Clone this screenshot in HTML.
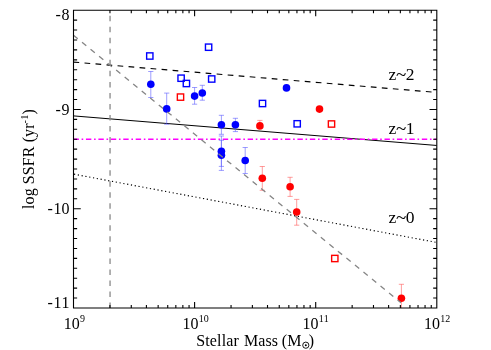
<!DOCTYPE html>
<html><head><meta charset="utf-8"><title>SSFR vs Stellar Mass</title>
<style>html,body{margin:0;padding:0;background:#fff;}body{width:491px;height:350px;overflow:hidden;}svg{display:block;will-change:transform;}text{font-family:"Liberation Serif",serif;fill:#000;font-kerning:none;}</style></head><body>
<svg width="491" height="350" viewBox="0 0 491 350">
<rect width="491" height="350" fill="#fff"/>
<defs><clipPath id="pc"><rect x="73.5" y="10.2" width="363.3" height="297.8"/></clipPath></defs>
<g clip-path="url(#pc)" fill="none">
<path d="M73.5 62.07 L436.8 92.44" stroke="#000" stroke-width="1.15" stroke-dasharray="5.7 5.35"/>
<path d="M73.5 115.9 L436.8 145.48" stroke="#000" stroke-width="1"/>
<path d="M74 174.19 L436.8 242.47" stroke="#000" stroke-width="1.15" stroke-dasharray="1.2 2.66"/>
<path d="M73.5 139.2 H436.8" stroke="#ff00ff" stroke-width="1.4" stroke-dasharray="5.4 2.72 1.6 2.72"/>
</g>
<g clip-path="url(#pc)">
<path d="M150.8 71.5 V97.5 M148.2 71.5 h5.2 M148.2 97.5 h5.2" stroke="#5a5aff" stroke-width="0.6" fill="none"/>
<path d="M166.7 93.1 V124.2 M164.1 93.1 h5.2 M164.1 124.2 h5.2" stroke="#5a5aff" stroke-width="0.6" fill="none"/>
<path d="M194.6 87.5 V104.2 M192 87.5 h5.2 M192 104.2 h5.2" stroke="#5a5aff" stroke-width="0.6" fill="none"/>
<path d="M202.3 85.3 V100.2 M199.7 85.3 h5.2 M199.7 100.2 h5.2" stroke="#5a5aff" stroke-width="0.6" fill="none"/>
<path d="M221.4 115.3 V134.3 M218.8 115.3 h5.2 M218.8 134.3 h5.2" stroke="#5a5aff" stroke-width="0.6" fill="none"/>
<path d="M221.4 136 V166.4 M218.8 136 h5.2 M218.8 166.4 h5.2" stroke="#5a5aff" stroke-width="0.6" fill="none"/>
<path d="M221.4 140.3 V170.4 M218.8 140.3 h5.2 M218.8 170.4 h5.2" stroke="#5a5aff" stroke-width="0.6" fill="none"/>
<path d="M235.4 118.3 V131.6 M232.8 118.3 h5.2 M232.8 131.6 h5.2" stroke="#5a5aff" stroke-width="0.6" fill="none"/>
<path d="M245.2 147.5 V173.5 M242.6 147.5 h5.2 M242.6 173.5 h5.2" stroke="#5a5aff" stroke-width="0.6" fill="none"/>
<path d="M259.9 120.4 V125.4 M257.3 120.4 h5.2" stroke="#ff5a5a" stroke-width="0.6" fill="none"/>
<path d="M262.3 166.5 V190.3 M259.7 166.5 h5.2 M259.7 190.3 h5.2" stroke="#ff5a5a" stroke-width="0.6" fill="none"/>
<path d="M290.1 177.3 V196.4 M287.5 177.3 h5.2 M287.5 196.4 h5.2" stroke="#ff5a5a" stroke-width="0.6" fill="none"/>
<path d="M296.7 199.4 V225.2 M294.1 199.4 h5.2 M294.1 225.2 h5.2" stroke="#ff5a5a" stroke-width="0.6" fill="none"/>
<path d="M401.4 284.3 V312.3 M398.8 284.3 h5.2 M398.8 312.3 h5.2" stroke="#ff5a5a" stroke-width="0.6" fill="none"/>
</g>
<circle cx="150.8" cy="84.3" r="3.8" fill="#0000ff"/>
<circle cx="166.7" cy="108.9" r="3.8" fill="#0000ff"/>
<circle cx="194.6" cy="96.1" r="3.8" fill="#0000ff"/>
<circle cx="202.3" cy="93" r="3.8" fill="#0000ff"/>
<circle cx="221.4" cy="124.7" r="3.8" fill="#0000ff"/>
<circle cx="221.4" cy="151.3" r="3.8" fill="#0000ff"/>
<circle cx="221.4" cy="155.3" r="3.8" fill="#0000ff"/>
<circle cx="235.4" cy="124.8" r="3.8" fill="#0000ff"/>
<circle cx="245.2" cy="160.5" r="3.8" fill="#0000ff"/>
<circle cx="286.5" cy="87.9" r="3.8" fill="#0000ff"/>
<circle cx="259.9" cy="125.9" r="3.8" fill="#ff0000"/>
<circle cx="262.3" cy="178.3" r="3.8" fill="#ff0000"/>
<circle cx="290.1" cy="186.7" r="3.8" fill="#ff0000"/>
<circle cx="296.7" cy="212" r="3.8" fill="#ff0000"/>
<circle cx="319.5" cy="109.1" r="3.8" fill="#ff0000"/>
<circle cx="401.4" cy="298.3" r="3.8" fill="#ff0000"/>
<rect x="146.65" y="52.85" width="6.3" height="6.3" fill="none" stroke="#0000ff" stroke-width="1.4"/>
<rect x="205.45" y="44.05" width="6.3" height="6.3" fill="none" stroke="#0000ff" stroke-width="1.4"/>
<rect x="177.95" y="75.05" width="6.3" height="6.3" fill="none" stroke="#0000ff" stroke-width="1.4"/>
<rect x="183.25" y="80.35" width="6.3" height="6.3" fill="none" stroke="#0000ff" stroke-width="1.4"/>
<rect x="208.55" y="75.85" width="6.3" height="6.3" fill="none" stroke="#0000ff" stroke-width="1.4"/>
<rect x="259.35" y="100.35" width="6.3" height="6.3" fill="none" stroke="#0000ff" stroke-width="1.4"/>
<rect x="294.05" y="120.65" width="6.3" height="6.3" fill="none" stroke="#0000ff" stroke-width="1.4"/>
<rect x="177.35" y="93.95" width="6.3" height="6.3" fill="none" stroke="#ff0000" stroke-width="1.4"/>
<rect x="328.35" y="120.85" width="6.3" height="6.3" fill="none" stroke="#ff0000" stroke-width="1.4"/>
<rect x="331.65" y="255.35" width="6.3" height="6.3" fill="none" stroke="#ff0000" stroke-width="1.4"/>
<g clip-path="url(#pc)" fill="none">
<path d="M110.05 308 V10.2" stroke="#888" stroke-width="1.3" stroke-dasharray="5.5 5.53"/>
<path d="M73.5 35.3 L401 302.67" stroke="#858585" stroke-width="1.3" stroke-dasharray="5.5 5.51"/>
</g>
<path d="M73.5 10.2 H436.8 V308 H73.5 Z M109.95 308 v-2.98 M109.95 10.2 v2.98 M131.28 308 v-2.98 M131.28 10.2 v2.98 M146.41 308 v-2.98 M146.41 10.2 v2.98 M158.15 308 v-2.98 M158.15 10.2 v2.98 M167.73 308 v-2.98 M167.73 10.2 v2.98 M175.84 308 v-2.98 M175.84 10.2 v2.98 M182.86 308 v-2.98 M182.86 10.2 v2.98 M189.06 308 v-2.98 M189.06 10.2 v2.98 M194.6 308 v-5.96 M194.6 10.2 v5.96 M231.05 308 v-2.98 M231.05 10.2 v2.98 M252.38 308 v-2.98 M252.38 10.2 v2.98 M267.51 308 v-2.98 M267.51 10.2 v2.98 M279.25 308 v-2.98 M279.25 10.2 v2.98 M288.83 308 v-2.98 M288.83 10.2 v2.98 M296.94 308 v-2.98 M296.94 10.2 v2.98 M303.96 308 v-2.98 M303.96 10.2 v2.98 M310.16 308 v-2.98 M310.16 10.2 v2.98 M315.7 308 v-5.96 M315.7 10.2 v5.96 M352.15 308 v-2.98 M352.15 10.2 v2.98 M373.48 308 v-2.98 M373.48 10.2 v2.98 M388.61 308 v-2.98 M388.61 10.2 v2.98 M400.35 308 v-2.98 M400.35 10.2 v2.98 M409.93 308 v-2.98 M409.93 10.2 v2.98 M418.04 308 v-2.98 M418.04 10.2 v2.98 M425.06 308 v-2.98 M425.06 10.2 v2.98 M431.26 308 v-2.98 M431.26 10.2 v2.98 M73.5 10.2 h7.27 M436.8 10.2 h-7.27 M73.5 20.13 h3.63 M436.8 20.13 h-3.63 M73.5 30.05 h3.63 M436.8 30.05 h-3.63 M73.5 39.98 h3.63 M436.8 39.98 h-3.63 M73.5 49.91 h3.63 M436.8 49.91 h-3.63 M73.5 59.83 h3.63 M436.8 59.83 h-3.63 M73.5 69.76 h3.63 M436.8 69.76 h-3.63 M73.5 79.69 h3.63 M436.8 79.69 h-3.63 M73.5 89.61 h3.63 M436.8 89.61 h-3.63 M73.5 99.54 h3.63 M436.8 99.54 h-3.63 M73.5 109.47 h7.27 M436.8 109.47 h-7.27 M73.5 119.39 h3.63 M436.8 119.39 h-3.63 M73.5 129.32 h3.63 M436.8 129.32 h-3.63 M73.5 139.25 h3.63 M436.8 139.25 h-3.63 M73.5 149.17 h3.63 M436.8 149.17 h-3.63 M73.5 159.1 h3.63 M436.8 159.1 h-3.63 M73.5 169.03 h3.63 M436.8 169.03 h-3.63 M73.5 178.95 h3.63 M436.8 178.95 h-3.63 M73.5 188.88 h3.63 M436.8 188.88 h-3.63 M73.5 198.81 h3.63 M436.8 198.81 h-3.63 M73.5 208.73 h7.27 M436.8 208.73 h-7.27 M73.5 218.66 h3.63 M436.8 218.66 h-3.63 M73.5 228.59 h3.63 M436.8 228.59 h-3.63 M73.5 238.51 h3.63 M436.8 238.51 h-3.63 M73.5 248.44 h3.63 M436.8 248.44 h-3.63 M73.5 258.37 h3.63 M436.8 258.37 h-3.63 M73.5 268.29 h3.63 M436.8 268.29 h-3.63 M73.5 278.22 h3.63 M436.8 278.22 h-3.63 M73.5 288.15 h3.63 M436.8 288.15 h-3.63 M73.5 298.07 h3.63 M436.8 298.07 h-3.63 M73.5 308 h7.27 M436.8 308 h-7.27" fill="none" stroke="#000" stroke-width="1.1" stroke-linecap="butt" stroke-linejoin="miter"/>
<text transform="translate(69.5 20.1) scale(1 1.06)" font-size="16" text-anchor="end">-<tspan dx="0.8">8</tspan></text>
<text transform="translate(69.5 115.1) scale(1 1.06)" font-size="16" text-anchor="end">-<tspan dx="0.8">9</tspan></text>
<text transform="translate(69.5 214.4) scale(1 1.06)" font-size="16" text-anchor="end">-<tspan dx="0.8">10</tspan></text>
<text transform="translate(69.5 307.6) scale(1 1.06)" font-size="16" text-anchor="end">-<tspan dx="0.8">11</tspan></text>
<text transform="translate(63.7 328.9) scale(1 1.06)" font-size="16">10<tspan font-size="10" dy="-6.6" dx="0.2">9</tspan></text>
<text transform="translate(182.5 328.9) scale(1 1.06)" font-size="16">10<tspan font-size="10" dy="-6.6" dx="0.2">10</tspan></text>
<text transform="translate(302.5 328.9) scale(1 1.06)" font-size="16">10<tspan font-size="10" dy="-6.6" dx="0.2">11</tspan></text>
<text transform="translate(424 328.9) scale(1 1.06)" font-size="16">10<tspan font-size="10" dy="-6.6" dx="0.2">12</tspan></text>
<text y="79.9" font-size="17.5"><tspan x="388.6">z</tspan><tspan x="396.0" dy="0.9" font-size="19">~</tspan><tspan x="405.7" dy="-0.9">2</tspan></text>
<text y="134.2" font-size="17.5"><tspan x="388.6">z</tspan><tspan x="396.0" dy="0.9" font-size="19">~</tspan><tspan x="405.7" dy="-0.9">1</tspan></text>
<text y="223.4" font-size="17.5"><tspan x="388.6">z</tspan><tspan x="396.0" dy="0.9" font-size="19">~</tspan><tspan x="405.7" dy="-0.9">0</tspan></text>
<text transform="translate(196.2 345.7) scale(1 1.06)" font-size="16" letter-spacing="0.07"><tspan letter-spacing="0.15">Stellar</tspan><tspan dx="0.95"> Mass</tspan><tspan dx="-0.3"> (M</tspan><tspan dx="7.2">)</tspan></text>
<circle cx="305.8" cy="345.2" r="3.1" fill="none" stroke="#000" stroke-width="0.9"/><circle cx="305.8" cy="345.2" r="1" fill="#000"/>
<text transform="translate(34.4 209.0) rotate(-90) scale(1 1.06)" font-size="16" letter-spacing="0.1">log SSFR (yr<tspan font-size="10.5" dy="-6">-1</tspan><tspan font-size="16" dy="6">)</tspan></text>
</svg></body></html>
